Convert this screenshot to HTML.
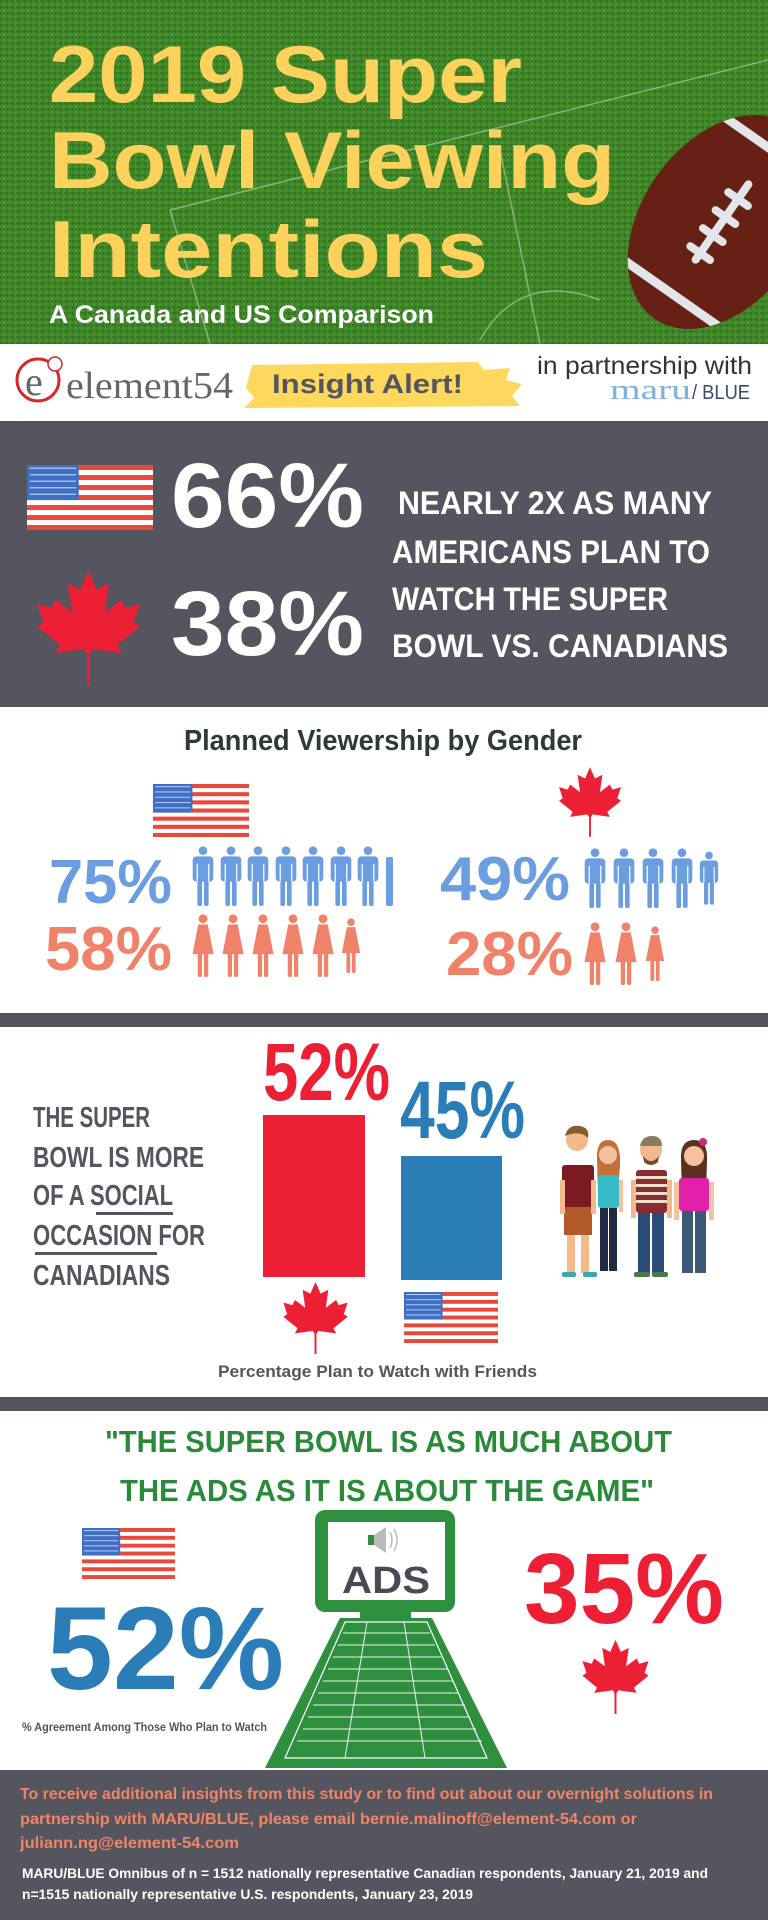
<!DOCTYPE html>
<html><head><meta charset="utf-8"><style>
html,body{margin:0;padding:0;background:#fff}
svg{display:block}
.b{font-family:"Liberation Sans",sans-serif;font-weight:bold}
.n{font-family:"Liberation Sans Narrow","Liberation Sans",sans-serif;font-weight:bold}
</style></head><body>
<svg width="768" height="1920" viewBox="0 0 768 1920" xmlns="http://www.w3.org/2000/svg">
<defs>
<pattern id="grass" width="6" height="6" patternUnits="userSpaceOnUse">
<rect width="6" height="6" fill="#3f8a28"/><rect x="0" y="0" width="2" height="3" fill="#2f6e1e"/><rect x="3" y="3" width="2" height="3" fill="#56a235"/><rect x="4" y="0" width="1" height="2" fill="#2a5f1a"/>
</pattern>
<clipPath id="ballclip"><ellipse cx="0" cy="0" rx="118" ry="80"/></clipPath>
<symbol id="flag" viewBox="0 0 190 100" preserveAspectRatio="none">
<rect width="190" height="100" fill="#fff"/>
<g fill="#e8493b"><rect y="0" width="190" height="7.7"/><rect y="15.4" width="190" height="7.7"/><rect y="30.8" width="190" height="7.7"/><rect y="46.2" width="190" height="7.7"/><rect y="61.6" width="190" height="7.7"/><rect y="77" width="190" height="7.7"/><rect y="92.3" width="190" height="7.7"/></g>
<rect width="78" height="54" fill="#3f6fc4"/>
<g fill="#cfe0ff" opacity=".8"><rect x="4" y="4" width="70" height="2"/><rect x="4" y="14" width="70" height="2"/><rect x="4" y="24" width="70" height="2"/><rect x="4" y="34" width="70" height="2"/><rect x="4" y="44" width="70" height="2"/></g>
</symbol>
<symbol id="leaf" viewBox="0 0 100 112">
<polygon fill="#ec1f35" points="50,0 58,18 70,12 66,40 82,28 86,36 100,32 94,50 100,54 78,72 82,80 54,76 52,80 48,80 46,76 18,80 22,72 0,54 6,50 0,32 14,36 18,28 34,40 30,12 42,18"/>
<rect x="48.5" y="74" width="3" height="38" fill="#ec1f35"/>
</symbol>
<symbol id="man" viewBox="0 0 24 64">
<circle cx="12" cy="5" r="4.6"/>
<rect x="1" y="11" width="22" height="27" rx="4"/>
<rect x="6" y="30" width="5" height="34" rx="2"/><rect x="13" y="30" width="5" height="34" rx="2"/>
<rect x="5.2" y="19" width="1.3" height="19" fill="#fff"/><rect x="17.5" y="19" width="1.3" height="19" fill="#fff"/>
</symbol>
<symbol id="woman" viewBox="0 0 24 66">
<circle cx="12" cy="5" r="4.6"/>
<path d="M7 11 H17 L23 42 H1 Z"/>
<rect x="6.5" y="40" width="4.5" height="26" rx="2"/><rect x="13" y="40" width="4.5" height="26" rx="2"/>
</symbol>
</defs>

<!-- header -->
<rect x="0" y="0" width="768" height="344" fill="url(#grass)"/>
<rect x="0" y="0" width="768" height="344" fill="#3d8526" opacity=".35"/>
<g stroke="#cfe6b8" stroke-width="1.5" fill="none" opacity=".5">
<path d="M170 210 L768 60"/><path d="M170 210 L210 344"/><path d="M500 150 L540 344"/><path d="M480 340 Q520 270 600 300"/>
</g>
<g transform="translate(722,222) rotate(-55)">
<ellipse cx="0" cy="0" rx="118" ry="80" fill="#662014"/>
<g clip-path="url(#ballclip)" fill="#e2e6ea">
<rect x="-92" y="-90" width="9" height="180"/>
<rect x="83" y="-90" width="9" height="180"/>
</g>
<rect x="-50" y="-4" width="100" height="8" rx="4" fill="#e2e6ea"/>
<g fill="#e2e6ea"><rect x="-42" y="-16" width="8" height="32" rx="4"/><rect x="-20" y="-16" width="8" height="32" rx="4"/><rect x="2" y="-16" width="8" height="32" rx="4"/><rect x="24" y="-16" width="8" height="32" rx="4"/></g>
</g>
<g class="b" fill="#fdd25c" font-size="81">
<text x="49" y="102" textLength="473" lengthAdjust="spacingAndGlyphs">2019 Super</text>
<text x="49" y="188" textLength="566" lengthAdjust="spacingAndGlyphs">Bowl Viewing</text>
<text x="49" y="277" textLength="439" lengthAdjust="spacingAndGlyphs">Intentions</text>
</g>
<text class="b" x="49" y="323" font-size="25" fill="#fff" textLength="385" lengthAdjust="spacingAndGlyphs">A Canada and US Comparison</text>

<!-- logo band -->
<rect x="0" y="344" width="768" height="77" fill="#fff"/>
<circle cx="38" cy="380" r="21" fill="none" stroke="#d22a2a" stroke-width="3"/>
<text x="25" y="395" font-family="Liberation Serif,serif" font-size="40" fill="#666">e</text>
<circle cx="55" cy="364" r="7" fill="#fff" stroke="#d22a2a" stroke-width="1.5"/>
<text x="66" y="398" font-family="Liberation Serif,serif" font-size="38" fill="#666" textLength="167" lengthAdjust="spacingAndGlyphs">element54</text>
<path d="M252 365 L478 362 L484 370 L510 368 L506 380 L522 384 L512 396 L520 406 L244 408 L254 398 L246 388 Z" fill="#fdd85c"/>
<text class="n" x="272" y="393" font-size="27" fill="#555560" textLength="191" lengthAdjust="spacingAndGlyphs">Insight Alert!</text>
<text x="537" y="374" font-family="Liberation Sans Narrow,Liberation Sans,sans-serif" font-size="25" fill="#333" textLength="215" lengthAdjust="spacingAndGlyphs">in partnership with</text>
<text x="610" y="399" font-family="Liberation Serif,serif" font-size="28" fill="#7fb0e0" textLength="81" lengthAdjust="spacingAndGlyphs">maru</text>
<text x="692" y="399" font-family="Liberation Sans Narrow,Liberation Sans,sans-serif" font-size="20" fill="#3a4a6a" textLength="58" lengthAdjust="spacingAndGlyphs">/ BLUE</text>

<!-- dark section 1 -->
<rect x="0" y="421" width="768" height="286" fill="#55555f"/>
<use href="#flag" x="27" y="465" width="126" height="65"/>
<use href="#leaf" x="37" y="571" width="103" height="115"/>
<g class="b" fill="#fff" font-size="92">
<text x="171" y="527" textLength="193" lengthAdjust="spacingAndGlyphs">66%</text>
<text x="171" y="655" textLength="193" lengthAdjust="spacingAndGlyphs">38%</text>
</g>
<g class="n" fill="#fff" font-size="32">
<text x="398" y="514" textLength="314" lengthAdjust="spacingAndGlyphs">NEARLY 2X AS MANY</text>
<text x="392" y="563" textLength="318" lengthAdjust="spacingAndGlyphs">AMERICANS PLAN TO</text>
<text x="392" y="610" textLength="276" lengthAdjust="spacingAndGlyphs">WATCH THE SUPER</text>
<text x="392" y="657" textLength="336" lengthAdjust="spacingAndGlyphs">BOWL VS. CANADIANS</text>
</g>

<!-- gender section -->
<text class="n" x="184" y="750" font-size="29" fill="#2e3a3a" textLength="398" lengthAdjust="spacingAndGlyphs">Planned Viewership by Gender</text>
<use href="#flag" x="153" y="784" width="96" height="53"/>
<use href="#leaf" x="559" y="766" width="62" height="72"/>
<g class="b" font-size="62">
<text x="49" y="903" fill="#6a9ee0" textLength="123" lengthAdjust="spacingAndGlyphs">75%</text>
<text x="45" y="970" fill="#f0826a" textLength="127" lengthAdjust="spacingAndGlyphs">58%</text>
<text x="440" y="900" fill="#6a9ee0" textLength="130" lengthAdjust="spacingAndGlyphs">49%</text>
<text x="446" y="975" fill="#f0826a" textLength="127" lengthAdjust="spacingAndGlyphs">28%</text>
</g>
<g fill="#6a9ee0">
<use href="#man" x="191" y="846" width="24" height="60"/><use href="#man" x="219" y="846" width="24" height="60"/><use href="#man" x="246" y="846" width="24" height="60"/><use href="#man" x="274" y="846" width="24" height="60"/><use href="#man" x="301" y="846" width="24" height="60"/><use href="#man" x="329" y="846" width="24" height="60"/><use href="#man" x="356" y="846" width="24" height="60"/>
<rect x="386" y="857" width="7" height="49" rx="2"/>
<use href="#man" x="583" y="848" width="24" height="60"/><use href="#man" x="612" y="848" width="24" height="60"/><use href="#man" x="641" y="848" width="24" height="60"/><use href="#man" x="670" y="848" width="24" height="60"/><use href="#man" x="699" y="848" width="20" height="60"/>
</g>
<g fill="#f0826a">
<use href="#woman" x="191" y="914" width="24" height="63"/><use href="#woman" x="221" y="914" width="24" height="63"/><use href="#woman" x="251" y="914" width="24" height="63"/><use href="#woman" x="281" y="914" width="24" height="63"/><use href="#woman" x="311" y="914" width="24" height="63"/><use href="#woman" x="341" y="914" width="20" height="63"/>
<use href="#woman" x="583" y="922" width="24" height="63"/><use href="#woman" x="614" y="922" width="24" height="63"/><use href="#woman" x="645" y="922" width="20" height="63"/>
</g>

<!-- divider -->
<rect x="0" y="1013" width="768" height="14" fill="#55555f"/>

<!-- social section -->
<g class="n" fill="#55555f" font-size="29">
<text x="33" y="1127" textLength="117" lengthAdjust="spacingAndGlyphs">THE SUPER</text>
<text x="33" y="1167" textLength="171" lengthAdjust="spacingAndGlyphs">BOWL IS MORE</text>
<text x="33" y="1205" textLength="140" lengthAdjust="spacingAndGlyphs">OF A SOCIAL</text>
<text x="33" y="1245" textLength="172" lengthAdjust="spacingAndGlyphs">OCCASION FOR</text>
<text x="33" y="1285" textLength="137" lengthAdjust="spacingAndGlyphs">CANADIANS</text>
</g>
<rect x="96" y="1212" width="77" height="3" fill="#55555f"/>
<rect x="35" y="1252" width="122" height="3" fill="#55555f"/>
<text class="b" x="263" y="1100" font-size="82" fill="#ec1f35" textLength="127" lengthAdjust="spacingAndGlyphs">52%</text>
<rect x="263" y="1115" width="102" height="162" fill="#ec1f35"/>
<text class="b" x="400" y="1138" font-size="82" fill="#2b7db8" textLength="125" lengthAdjust="spacingAndGlyphs">45%</text>
<rect x="401" y="1156" width="101" height="124" fill="#2b7db8"/>
<use href="#leaf" x="282" y="1282" width="67" height="72"/>
<use href="#flag" x="404" y="1292" width="94" height="51"/>
<text class="n" x="218" y="1377" font-size="17" fill="#55555f" textLength="319" lengthAdjust="spacingAndGlyphs">Percentage Plan to Watch with Friends</text>
<!-- people -->
<g>
<circle cx="577" cy="1140" r="11" fill="#f2b98a"/><path d="M565 1136 Q568 1124 580 1126 Q590 1128 588 1138 Q580 1130 565 1136Z" fill="#8a5a2a"/>
<rect x="562" y="1165" width="32" height="42" rx="3" fill="#7c1a22"/>
<rect x="564" y="1207" width="28" height="28" fill="#b35a28"/>
<rect x="567" y="1235" width="8" height="38" fill="#f2b98a"/><rect x="581" y="1235" width="8" height="38" fill="#f2b98a"/>
<rect x="560" y="1180" width="5" height="34" fill="#f2b98a"/><rect x="591" y="1180" width="5" height="34" fill="#f2b98a"/>
<rect x="562" y="1272" width="14" height="5" rx="2" fill="#3aa6b0"/><rect x="583" y="1272" width="14" height="5" rx="2" fill="#3aa6b0"/>
<path d="M597 1160 Q596 1140 608 1140 Q621 1140 620 1165 L618 1195 L598 1195Z" fill="#c4703a"/>
<circle cx="608" cy="1155" r="9" fill="#f5c2a0"/>
<rect x="598" y="1175" width="21" height="33" rx="3" fill="#36bcc6"/>
<rect x="600" y="1208" width="8" height="63" fill="#1f2a44"/><rect x="609" y="1208" width="8" height="63" fill="#1f2a44"/>
<rect x="619" y="1180" width="4" height="32" fill="#f5c2a0"/>
<circle cx="651" cy="1150" r="11" fill="#f2b98a"/><path d="M640 1146 Q642 1136 652 1136 Q662 1136 662 1146Z" fill="#8a7a60"/><path d="M643 1156 Q651 1166 659 1156 L658 1162 Q651 1168 644 1162Z" fill="#7a4a2a"/>
<rect x="636" y="1170" width="31" height="43" rx="3" fill="#8a2a32"/>
<g fill="#e8e0c8"><rect x="636" y="1176" width="31" height="3"/><rect x="636" y="1184" width="31" height="3"/><rect x="636" y="1192" width="31" height="3"/><rect x="636" y="1200" width="31" height="3"/></g>
<rect x="638" y="1213" width="12" height="60" fill="#2a4a7a"/><rect x="652" y="1213" width="12" height="60" fill="#2a4a7a"/>
<rect x="631" y="1180" width="5" height="38" fill="#f2b98a"/><rect x="667" y="1180" width="5" height="38" fill="#f2b98a"/>
<rect x="634" y="1272" width="16" height="5" rx="2" fill="#4a7a4a"/><rect x="652" y="1272" width="16" height="5" rx="2" fill="#4a7a4a"/>
<path d="M681 1160 Q680 1140 694 1140 Q708 1140 707 1160 L706 1195 L682 1195Z" fill="#5a3020"/>
<circle cx="694" cy="1156" r="10" fill="#f5c2a0"/><circle cx="703" cy="1142" r="4" fill="#e0207a"/>
<rect x="679" y="1178" width="30" height="33" rx="3" fill="#e020a8"/>
<rect x="682" y="1211" width="11" height="62" fill="#3a5a78"/><rect x="695" y="1211" width="11" height="62" fill="#3a5a78"/>
<rect x="674" y="1182" width="5" height="38" fill="#f5c2a0"/><rect x="709" y="1182" width="5" height="38" fill="#f5c2a0"/>
</g>

<!-- divider -->
<rect x="0" y="1397" width="768" height="14" fill="#55555f"/>

<!-- ads section -->
<g class="n" fill="#2a8a3a" font-size="31">
<text x="105" y="1452" textLength="567" lengthAdjust="spacingAndGlyphs">"THE SUPER BOWL IS AS MUCH ABOUT</text>
<text x="120" y="1501" textLength="534" lengthAdjust="spacingAndGlyphs">THE ADS AS IT IS ABOUT THE GAME"</text>
</g>
<use href="#flag" x="82" y="1528" width="93" height="51"/>
<text class="b" x="47" y="1689" font-size="118" fill="#2b7db8" textLength="237" lengthAdjust="spacingAndGlyphs">52%</text>
<text class="n" x="22" y="1731" font-size="12" fill="#55555f" textLength="245" lengthAdjust="spacingAndGlyphs">% Agreement Among Those Who Plan to Watch</text>
<rect x="315" y="1510" width="140" height="102" rx="10" fill="#2e8f3e"/>
<rect x="328" y="1522" width="117" height="78" fill="#fff"/>
<rect x="360" y="1610" width="51" height="9" fill="#2e8f3e"/>
<rect x="368" y="1535" width="6" height="10" fill="#2e8f3e"/><path d="M374 1535 L386 1527 L386 1553 L374 1545Z" fill="#bbb"/>
<path d="M390 1532 Q394 1540 390 1548 M394 1529 Q400 1540 394 1551" stroke="#bbb" stroke-width="1.5" fill="none"/>
<text class="b" x="342" y="1593" font-size="38" fill="#4a4a55" textLength="88" lengthAdjust="spacingAndGlyphs">ADS</text>
<path d="M340 1618 L432 1618 L507 1768 L265 1768Z" fill="#2e8f3e"/>
<path d="M345 1622 L427 1622 L487 1758 L285 1758Z" fill="none" stroke="#fff" stroke-width="1.2"/>
<g stroke="#fff" stroke-width="1" opacity=".9">
<line x1="367" y1="1622" x2="345" y2="1758"/><line x1="404" y1="1622" x2="425" y2="1758"/>
<line x1="343" y1="1633" x2="430" y2="1633"/><line x1="338" y1="1645" x2="435" y2="1645"/><line x1="333" y1="1657" x2="441" y2="1657"/><line x1="328" y1="1669" x2="447" y2="1669"/><line x1="323" y1="1681" x2="453" y2="1681"/><line x1="318" y1="1693" x2="459" y2="1693"/><line x1="313" y1="1705" x2="465" y2="1705"/><line x1="308" y1="1717" x2="470" y2="1717"/><line x1="303" y1="1729" x2="476" y2="1729"/><line x1="297" y1="1741" x2="482" y2="1741"/>
</g>
<text class="b" x="524" y="1623" font-size="100" fill="#ec1f35" textLength="200" lengthAdjust="spacingAndGlyphs">35%</text>
<use href="#leaf" x="581" y="1640" width="69" height="74"/>

<!-- footer -->
<rect x="0" y="1770" width="768" height="150" fill="#55555f"/>
<g class="n" fill="#f08566" font-size="16">
<text x="20" y="1799" textLength="693" lengthAdjust="spacingAndGlyphs">To receive additional insights from this study or to find out about our overnight solutions in</text>
<text x="20" y="1824" textLength="617" lengthAdjust="spacingAndGlyphs">partnership with MARU/BLUE, please email bernie.malinoff@element-54.com or</text>
<text x="20" y="1848" textLength="219" lengthAdjust="spacingAndGlyphs">juliann.ng@element-54.com</text>
</g>
<g class="n" fill="#fff" font-size="14">
<text x="22" y="1878" textLength="686" lengthAdjust="spacingAndGlyphs">MARU/BLUE Omnibus of n = 1512 nationally representative Canadian respondents, January 21, 2019 and</text>
<text x="22" y="1899" textLength="451" lengthAdjust="spacingAndGlyphs">n=1515 nationally representative U.S. respondents, January 23, 2019</text>
</g>
</svg>
</body></html>
